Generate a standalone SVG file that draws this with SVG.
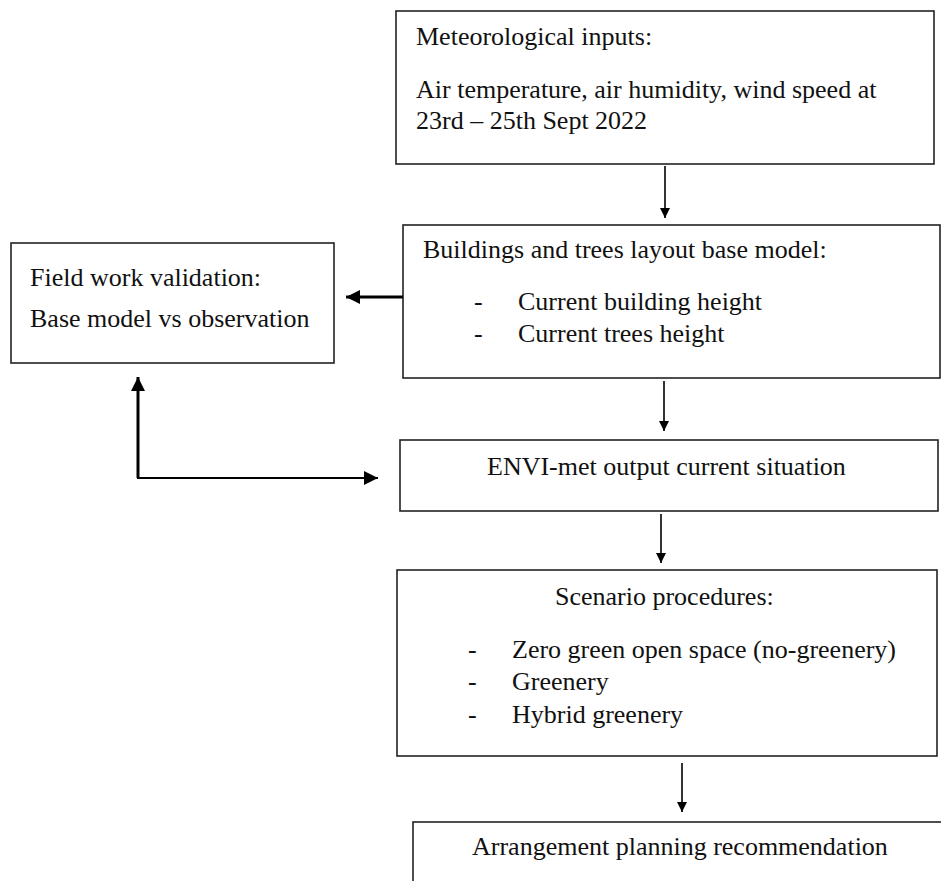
<svg xmlns="http://www.w3.org/2000/svg" width="941" height="881" viewBox="0 0 941 881">
<defs>
<marker id="ah" viewBox="0 0 10 10" refX="10" refY="5" markerWidth="10" markerHeight="10" markerUnits="userSpaceOnUse" orient="auto">
<path d="M0,0 L10,5 L0,10 Z" fill="#000"/>
</marker>
<marker id="ahb" viewBox="0 0 10 10" refX="10" refY="5" markerWidth="14" markerHeight="14" markerUnits="userSpaceOnUse" orient="auto">
<path d="M0,0 L10,5 L0,10 Z" fill="#000"/>
</marker>
</defs>
<style>
.box{fill:#fff;stroke:#222;stroke-width:1.6}
.t{font-family:"Liberation Serif","Times New Roman",serif;font-size:26px;fill:#111}
.c{fill:none;stroke:#000;stroke-width:1.6}
.cb{fill:none;stroke:#000;stroke-width:3}
</style>
<rect width="941" height="881" fill="#fff"/>
<g id="meteo">
<rect class="box" x="396" y="11" width="538" height="153"/>
<text class="t" x="416" y="45">Meteorological inputs:</text>
<text class="t" x="416" y="98">Air temperature, air humidity, wind speed at</text>
<text class="t" x="416" y="129">23rd – 25th Sept 2022</text>
</g>
<g id="base">
<rect class="box" x="403" y="225" width="537" height="153"/>
<text class="t" x="423" y="258">Buildings and trees layout base model:</text>
<text class="t" x="474" y="310">-</text>
<text class="t" x="518" y="310">Current building height</text>
<text class="t" x="474" y="342">-</text>
<text class="t" x="518" y="342">Current trees height</text>
</g>
<g id="field">
<rect class="box" x="11" y="243" width="323" height="120"/>
<text class="t" x="30" y="286">Field work validation:</text>
<text class="t" x="30" y="327">Base model vs observation</text>
</g>
<g id="envi">
<rect class="box" x="400" y="440" width="538" height="71"/>
<text class="t" x="487" y="475">ENVI-met output current situation</text>
</g>
<g id="scenario">
<rect class="box" x="397" y="570" width="540" height="186"/>
<text class="t" x="555" y="605">Scenario procedures:</text>
<text class="t" x="468" y="658">-</text>
<text class="t" x="512" y="658">Zero green open space (no-greenery)</text>
<text class="t" x="468" y="690">-</text>
<text class="t" x="512" y="690">Greenery</text>
<text class="t" x="468" y="723">-</text>
<text class="t" x="512" y="723">Hybrid greenery</text>
</g>
<g id="arrangement">
<rect class="box" x="413" y="822" width="560" height="100"/>
<text class="t" x="472" y="855">Arrangement planning recommendation</text>
</g>
<g id="connectors">
<line class="c" x1="665" y1="166" x2="665" y2="218" marker-end="url(#ah)"/>
<line class="c" x1="664" y1="381" x2="664" y2="431" marker-end="url(#ah)"/>
<line class="c" x1="661" y1="514" x2="661" y2="563" marker-end="url(#ah)"/>
<line class="c" x1="682" y1="763" x2="682" y2="812" marker-end="url(#ah)"/>
<line class="cb" x1="403" y1="297" x2="346" y2="297" marker-end="url(#ahb)"/>
<polyline class="cb" points="138,478 138,377" marker-end="url(#ahb)"/>
<polyline class="cb" points="137,478 378,478" marker-end="url(#ahb)" style="stroke-width:2.2"/>
</g>
</svg>
